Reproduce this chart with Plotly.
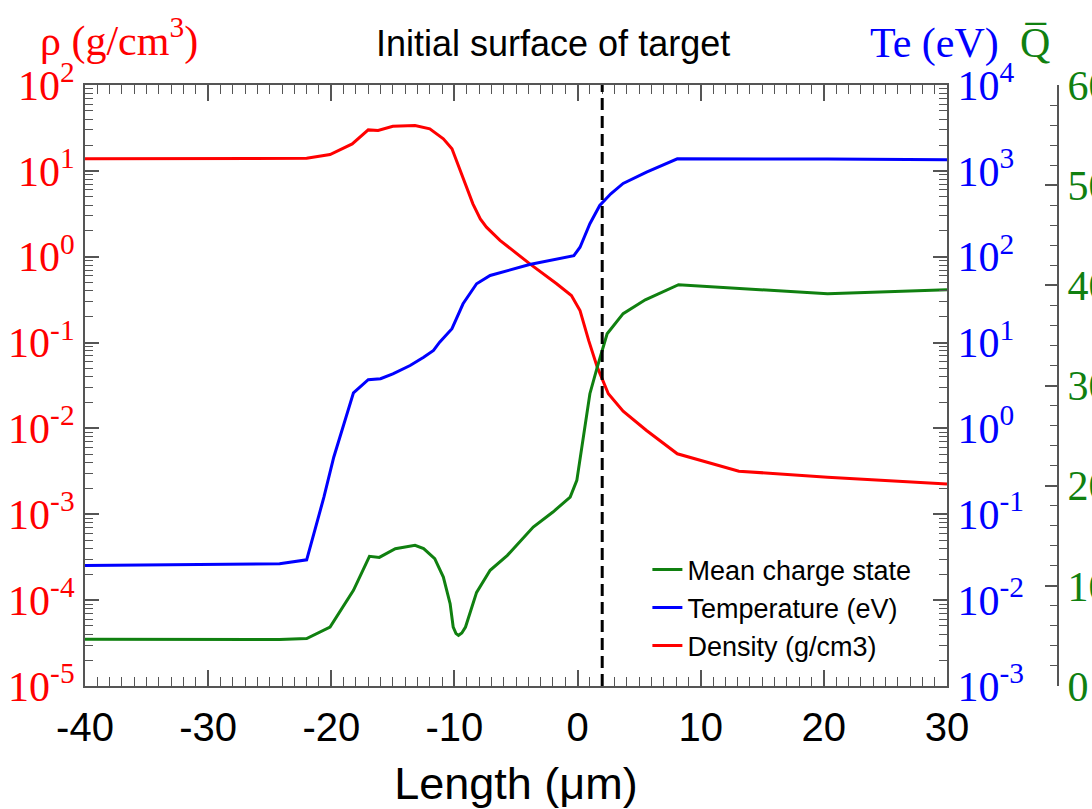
import plotly.graph_objects as go

# ---------------- data ----------------
# Density (g/cm3), left log axis
x_rho = [-40, -24.2, -22.0, -20.1, -18.3, -17.0, -16.2, -15.0, -13.2, -12.0, -10.9,
         -10.2, -9.4, -8.5, -7.9, -7.4, -6.3, -5.1, -3.9, -1.7, -0.5, 0.2, 0.9, 1.6,
         2.5, 3.7, 5.6, 8.1, 13.1, 20.3, 30]
rho = [13.8, 13.8, 14.0, 15.5, 20.6, 30.0, 29.5, 33.1, 33.7, 30.9, 23.6,
       18.1, 9.25, 4.13, 2.76, 2.21, 1.55, 1.13, 0.83, 0.484, 0.353, 0.236, 0.106, 0.0517,
       0.0253, 0.0159, 0.00946, 0.00507, 0.00318, 0.0027, 0.00226]

# Temperature (eV), right log axis
x_te = [-40, -24.2, -22.0, -20.6, -19.8, -18.2, -17.0, -16.0, -15.0, -13.6, -12.5,
        -11.7, -11.2, -10.2, -9.3, -8.2, -7.1, -3.9, -0.3, 0.2, 1.0, 1.8, 2.7, 3.7,
        5.6, 8.1, 20.3, 30]
te = [0.0253, 0.0265, 0.0295, 0.158, 0.462, 2.60, 3.69, 3.79, 4.33, 5.41, 6.76,
      8.09, 10.1, 14.5, 28.3, 48.4, 60.4, 81.2, 103, 129, 242, 395, 541, 713,
      965, 1381, 1377, 1346]

# Mean charge state, far-right linear axis
x_q = [-40, -24.2, -22.0, -20.1, -18.2, -16.9, -16.1, -14.8, -13.2, -12.5, -11.6,
       -10.9, -10.35, -10.1, -9.87, -9.67, -9.4, -9.1, -8.2, -7.1, -5.7, -3.6, -2.0,
       -0.6, -0.06, 0.5, 1.0, 1.6, 2.4, 3.7, 5.5, 8.2, 20.3, 30]
q = [4.66, 4.63, 4.73, 5.89, 9.55, 12.94, 12.84, 13.71, 14.04, 13.71, 12.71,
     10.88, 8.22, 5.89, 5.23, 5.06, 5.29, 5.89, 9.35, 11.55, 13.04, 15.87, 17.37,
     18.86, 20.53, 24.85, 29.18, 31.84, 35.17, 37.17, 38.56, 40.06, 39.16, 39.56]

surface_x = 2.0  # initial surface of target (dashed line)

x_ticks = [-40, -30, -20, -10, 0, 10, 20, 30]
rho_exps = [-5, -4, -3, -2, -1, 0, 1, 2]
te_exps = [-3, -2, -1, 0, 1, 2, 3, 4]

# ---------------- figure ----------------
SERIF = "Liberation Serif, Times New Roman, serif"
SANS = "Liberation Sans, Arial, sans-serif"
AXC = "#555555"

fig = go.Figure()
fig.add_trace(go.Scatter(x=x_q, y=q, mode="lines", name="Mean charge state",
                         line=dict(color="#108010", width=3), yaxis="y3"))
fig.add_trace(go.Scatter(x=x_te, y=te, mode="lines", name="Temperature (eV)",
                         line=dict(color="#0000ff", width=3), yaxis="y2"))
fig.add_trace(go.Scatter(x=x_rho, y=rho, mode="lines", name="Density (g/cm3)",
                         line=dict(color="#ff0000", width=3), yaxis="y"))

def log_minor(exps):
    return [k * 10.0 ** e for e in exps[:-1] for k in range(2, 10)]

fig.add_shape(type="line", x0=surface_x, x1=surface_x, xref="x", yref="paper",
              y0=0, y1=1, line=dict(color="black", width=3, dash="12px,6px"))

fig.update_layout(
    width=1092, height=809,
    margin=dict(l=85, r=34, t=85, b=123, pad=0, autoexpand=False),
    paper_bgcolor="white", plot_bgcolor="white",
    showlegend=True,
    legend=dict(x=0.578, y=0.234, xanchor="left", yanchor="top",
                bgcolor="rgba(0,0,0,0)", font=dict(family=SANS, size=27, color="black"),
                itemwidth=30, tracegroupgap=0),
    xaxis=dict(domain=[0, 862 / 973], range=[-40, 30], automargin=False,
               tickvals=x_ticks, ticktext=[str(v) for v in x_ticks],
               ticks="inside", ticklen=16, tickwidth=1.5, tickcolor=AXC,
               showline=True, linecolor=AXC, linewidth=2, mirror="ticks",
               showgrid=False, zeroline=False, ticklabelstandoff=5,
               tickfont=dict(family=SANS, size=40, color="black"),
               title=dict(text="Length (μm)", standoff=20,
                          font=dict(family=SANS, size=45, color="black")),
               minor=dict(dtick=1, tick0=0, ticks="inside", ticklen=9, tickcolor=AXC,
                          tickwidth=1, showgrid=False)),
    yaxis=dict(type="log", range=[-5, 2], automargin=False,
               tickvals=[10.0 ** e for e in rho_exps],
               ticktext=[f"10<sup>{e}</sup>" for e in rho_exps],
               ticks="inside", ticklen=14, tickwidth=1.5, tickcolor=AXC,
               showline=True, linecolor=AXC, linewidth=2, showgrid=False, zeroline=False,
               tickfont=dict(family=SERIF, size=42, color="#ff0000"),
               minor=dict(tickvals=log_minor(rho_exps), ticks="inside", ticklen=8,
                          tickcolor=AXC, tickwidth=1, showgrid=False)),
    yaxis2=dict(type="log", range=[-3, 4], overlaying="y", side="right", anchor="x",
                automargin=False,
                tickvals=[10.0 ** e for e in te_exps],
                ticktext=[f"10<sup>{e}</sup>" for e in te_exps],
                ticks="inside", ticklen=14, tickwidth=1.5, tickcolor=AXC,
                showline=True, linecolor=AXC, linewidth=2, showgrid=False, zeroline=False,
                tickfont=dict(family=SERIF, size=42, color="#0000ff"),
                minor=dict(tickvals=log_minor(te_exps), ticks="inside", ticklen=8,
                           tickcolor=AXC, tickwidth=1, showgrid=False)),
    yaxis3=dict(range=[0, 60], overlaying="y", side="right", anchor="free", position=1.0,
                automargin=False,
                dtick=10, ticks="inside", ticklen=12, tickwidth=1.5, tickcolor=AXC,
                showline=True, linecolor=AXC, linewidth=2, showgrid=False, zeroline=False,
                tickfont=dict(family=SERIF, size=42, color="#108010"),
                minor=dict(dtick=2, ticks="inside", ticklen=7, tickcolor=AXC,
                           tickwidth=1, showgrid=False)),
)

ann = [
    dict(text="Initial surface of target", x=(553 - 85) / 973, y=(686 - 43) / 601,
         xanchor="center", yanchor="middle",
         font=dict(family=SANS, size=36, color="black")),
    dict(text="ρ (g/cm<sup>3</sup>)", x=(38 - 85) / 973, y=(686 - 38) / 601,
         xanchor="left", yanchor="middle",
         font=dict(family=SERIF, size=42, color="#ff0000")),
    dict(text="Te (eV)", x=(868 - 85) / 973, y=(686 - 43) / 601,
         xanchor="left", yanchor="middle",
         font=dict(family=SERIF, size=42, color="#0000ff")),
    dict(text="Q\u0305", x=(1035 - 85) / 973, y=(686 - 43) / 601,
         xanchor="center", yanchor="middle",
         font=dict(family=SERIF, size=42, color="#108010")),
]
for a in ann:
    fig.add_annotation(xref="paper", yref="paper", showarrow=False, **a)

fig.write_html("out.html")
